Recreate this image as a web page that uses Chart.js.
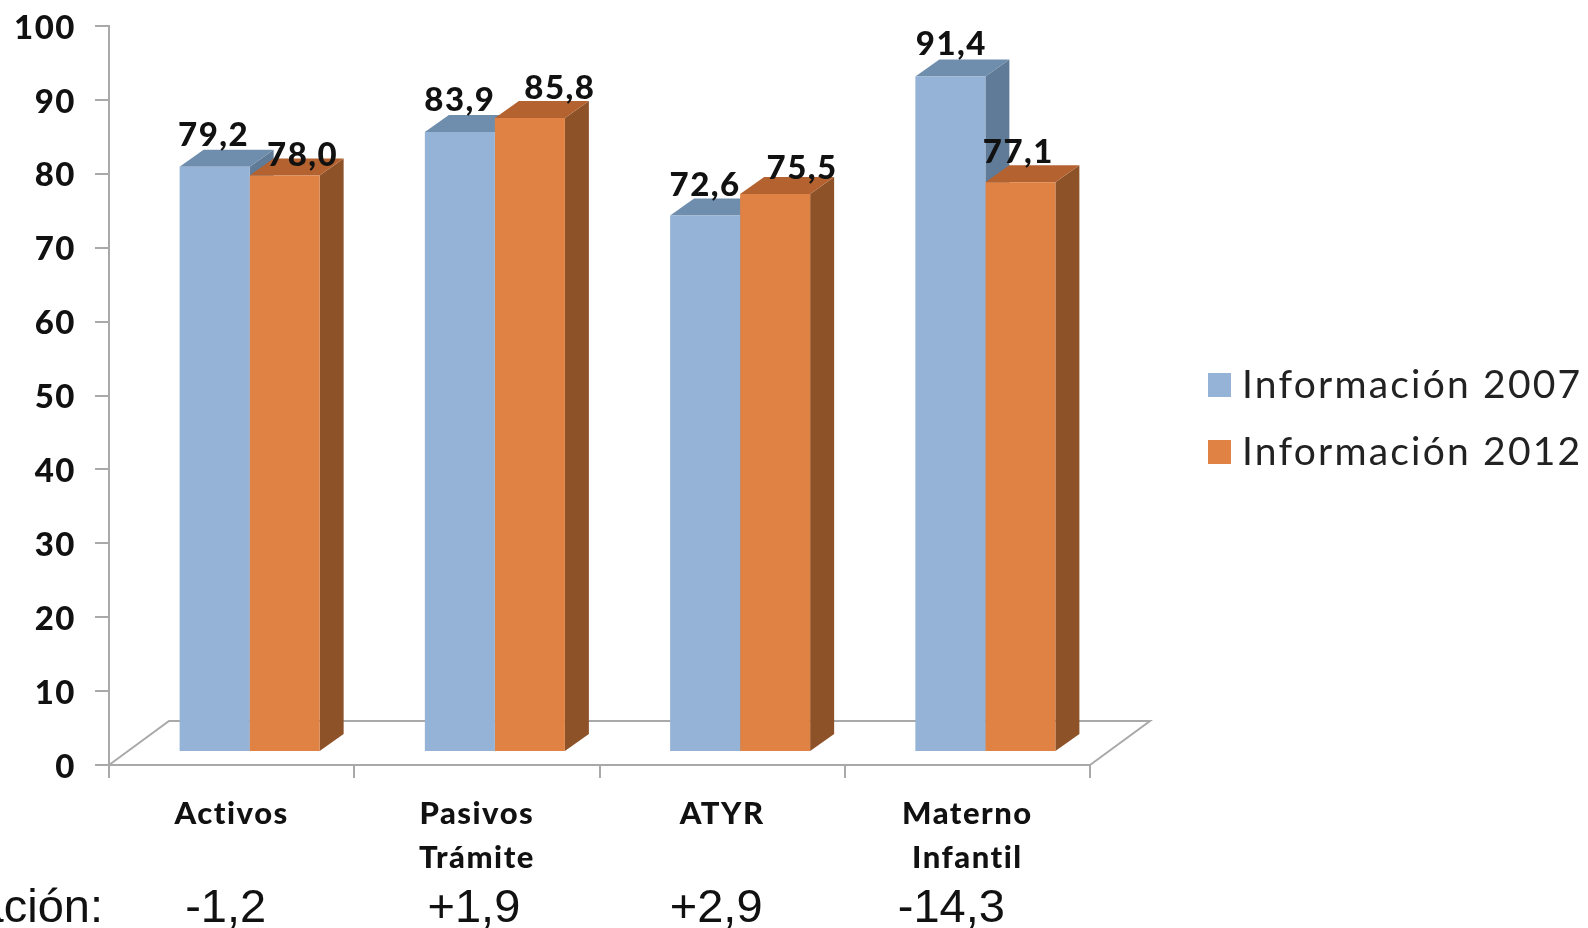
<!DOCTYPE html>
<html lang="es">
<head>
<meta charset="utf-8">
<title>Información 2007 - 2012</title>
<script src="https://cdn.jsdelivr.net/npm/chart.js@4"></script>
<style>
    body { margin: 0; background: #fff; }
    canvas { display: block; }
</style>
</head>
<body>
<canvas id="info-chart" width="1588" height="928"></canvas>
<script>
const categories = ['Activos', ['Pasivos', 'Trámite'], 'ATYR', ['Materno', 'Infantil']];
const info2007 = [79.2, 83.9, 72.6, 91.4];
const info2012 = [78.0, 85.8, 75.5, 77.1];
const variation = ['-1,2', '+1,9', '+2,9', '-14,3'];
const yTicks = [0, 10, 20, 30, 40, 50, 60, 70, 80, 90, 100];

const faceColors = [
    { front: '#95b3d7', top: '#6f8dac', side: '#607b97' },
    { front: '#df8244', top: '#b4622f', side: '#8e5229' }
];
const axisColor = '#a9a9a9';
const textColor = '#111';
const boldFont = { family: 'Lato', weight: '900' };

// front plane of the bars sits this far from the axes, plus the depth of each box
const shiftX = 18, shiftY = 13;
const depthX = 24, depthY = 17;
const floorX = 60, floorY = 44;

// label nudges, the 2012 labels dodge the neighbouring tops
const labelNudge = [
    [[-1, -31], [18, -20]],
    [[0, -32], [30, -30]],
    [[0, -30], [27, -26]],
    [[1, -32], [-2, -30]]
];
const variationNudge = [-6, -3, -6, -16];

function poly(ctx, points, fill) {
    ctx.beginPath();
    points.forEach((p, i) => i ? ctx.lineTo(p[0], p[1]) : ctx.moveTo(p[0], p[1]));
    ctx.closePath();
    ctx.fillStyle = fill;
    ctx.fill();
}

const box3d = {
    id: 'box3d',
    beforeDraw(chart) {
        chart.ctx.letterSpacing = '1.5px';
    },
    beforeDatasetsDraw(chart) {
        const { ctx, chartArea: a } = chart;
        ctx.save();
        ctx.strokeStyle = axisColor;
        ctx.lineWidth = 2;
        ctx.beginPath();
        ctx.moveTo(a.left, a.bottom);
        ctx.lineTo(a.left + floorX, a.bottom - floorY);
        ctx.lineTo(a.right + floorX, a.bottom - floorY);
        ctx.lineTo(a.right, a.bottom);
        ctx.stroke();
        ctx.restore();

        ctx.save();
        ctx.translate(shiftX, -shiftY);
        chart.data.datasets.forEach((ds, d) => {
            chart.getDatasetMeta(d).data.forEach(bar => {
                const left = bar.x - bar.width / 2, right = bar.x + bar.width / 2;
                poly(ctx, [[right, bar.y], [right + depthX, bar.y - depthY], [right + depthX, bar.base - depthY], [right, bar.base]], faceColors[d].side);
                poly(ctx, [[left, bar.y], [left + depthX, bar.y - depthY], [right + depthX, bar.y - depthY], [right, bar.y]], faceColors[d].top);
            });
        });
    },
    afterDatasetsDraw(chart) {
        const { ctx, scales } = chart;
        ctx.restore();

        ctx.save();
        ctx.textAlign = 'center';
        ctx.textBaseline = 'middle';
        ctx.fillStyle = textColor;
        ctx.font = '900 33px Lato';
        chart.data.datasets.forEach((ds, d) => {
            chart.getDatasetMeta(d).data.forEach((bar, i) => {
                const text = ds.data[i].toFixed(1).replace('.', ',');
                const nudge = labelNudge[i][d];
                ctx.fillText(text, bar.x + shiftX + nudge[0], bar.y - shiftY + nudge[1]);
            });
        });

        // legend to the right of the floor
        ctx.textAlign = 'left';
        ctx.font = '39px Lato';
        ctx.letterSpacing = '2.2px';
        chart.data.datasets.forEach((ds, d) => {
            const rowY = 385 + d * 67;
            ctx.fillStyle = faceColors[d].front;
            ctx.fillRect(1208, rowY - 12, 23, 24);
            ctx.fillStyle = '#222';
            ctx.fillText(ds.label, 1242, rowY);
        });

        // variation row under the axis labels
        ctx.fillStyle = textColor;
        ctx.letterSpacing = '0px';
        ctx.textAlign = 'center';
        ctx.font = '47px "Liberation Sans"';
        ctx.textBaseline = 'alphabetic';
        const rowY = 922;
        variation.forEach((v, i) => {
            ctx.fillText(v, scales.x.getPixelForValue(i) + variationNudge[i], rowY);
        });
        ctx.textAlign = 'right';
        ctx.fillText('Variación:', 103, rowY);
        ctx.restore();
    }
};

new Chart(document.getElementById('info-chart').getContext('2d'), {
    type: 'bar',
    data: {
        labels: categories,
        datasets: [
            { label: 'Información 2007', data: info2007, backgroundColor: faceColors[0].front },
            { label: 'Información 2012', data: info2012, backgroundColor: faceColors[1].front }
        ]
    },
    plugins: [box3d],
    options: {
        responsive: false,
        animation: false,
        categoryPercentage: 0.571,
        barPercentage: 1,
        layout: { padding: { top: 26, right: 498 } },
        scales: {
            x: {
                grid: { drawOnChartArea: false, color: axisColor, lineWidth: 2, tickLength: 13 },
                border: { color: axisColor, width: 2 },
                ticks: { color: textColor, font: { ...boldFont, size: 31, lineHeight: 1.42 }, padding: 14, maxRotation: 0, autoSkip: false },
                afterFit(scale) { scale.height = 163; }
            },
            y: {
                min: 0,
                max: 100,
                afterBuildTicks(scale) { scale.ticks = yTicks.map(value => ({ value })); },
                grid: { drawOnChartArea: false, color: axisColor, lineWidth: 2, tickLength: 14 },
                border: { color: axisColor, width: 2 },
                ticks: { color: textColor, font: { ...boldFont, size: 33 }, padding: 19, labelOffset: 2 },
                afterFit(scale) {
                    scale.width = 109;
                    scale.paddingTop = 0;
                    scale.paddingBottom = 0;
                }
            }
        },
        plugins: {
            legend: { display: false },
            tooltip: { enabled: false }
        }
    }
});
</script>
</body>
</html>
